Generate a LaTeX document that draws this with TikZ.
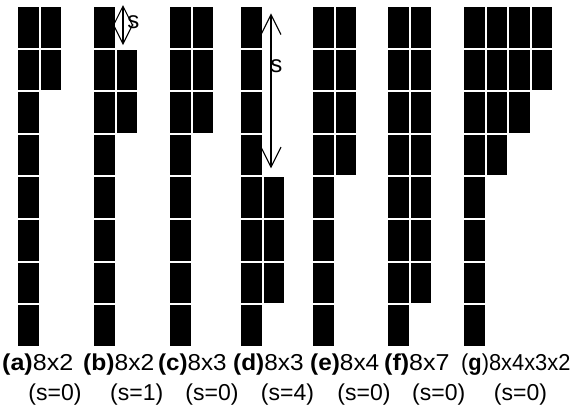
\documentclass[tikz,border=0pt]{standalone}
\usepackage{fontspec}
\usepackage{graphicx}
\setmainfont{Liberation Sans}
\usetikzlibrary{arrows.meta}
% caption text stretched horizontally by #1
\newcommand{\capstretch}[2]{\scalebox{#1}[1]{#2}}
\begin{document}
\begin{tikzpicture}[x=1pt,y=-1pt,
  cell/.style={fill=black},
  gaparrow/.style={line width=1.1pt,{Straight Barb[length=20pt,width=20pt]}-{Straight Barb[length=20pt,width=20pt]}},
  caption/.style={inner sep=0pt,font=\fontsize{23}{27}\selectfont},
  slabel/.style={inner sep=0pt,font=\fontsize{24}{28}\selectfont}]
\useasboundingbox (0,0) rectangle (574,405);
\def\cellw{20.6}\def\cellh{40.6}\def\pitchx{22.6}\def\pitchy{42.6}\def\gridtop{7}
% panels: left edge / list of column:first row:row count
\foreach \L/\spec in {18/{0/0/8,1/0/2},94/{0/0/8,1/1/2},170/{0/0/8,1/0/3},241/{0/0/8,1/4/3},313/{0/0/8,1/0/4},388/{0/0/8,1/0/7},464/{0/0/8,1/0/4,2/0/3,3/0/2}}{
  \foreach \c/\s/\n in \spec {
    \foreach \r in {1,...,\n} {
      \fill[cell] ({\L+\c*\pitchx},{\gridtop+(\s+\r-1)*\pitchy}) rectangle ++(\cellw,\cellh);
    }
  }
}
% shift arrows
\coordinate (bTop) at (123,5);
\coordinate (bBot) at (123,45);
\draw[gaparrow] (bTop) -- (bBot);
\node[slabel] (bS) at (133.3,22) {s};
\coordinate (dTop) at (271,13.3);
\coordinate (dBot) at (271,168.3);
\draw[gaparrow] (dTop) -- (dBot);
\node[slabel] (dS) at (276.3,65.7) {s};
% captions
\node[caption,anchor=base west] (capA) at (2,370.5) {\capstretch{1.09}{\textbf{(a)}8x2}};
\node[caption,anchor=base west] (capB) at (83,370.5) {\capstretch{1.07}{\textbf{(b)}8x2}};
\node[caption,anchor=base west] (capC) at (158,370.5) {\capstretch{1.05}{\textbf{(c)}8x3}};
\node[caption,anchor=base west] (capD) at (233,370.5) {\capstretch{1.06}{\textbf{(d)}8x3}};
\node[caption,anchor=base west] (capE) at (310,370.5) {\capstretch{1.06}{\textbf{(e)}8x4}};
\node[caption,anchor=base west] (capF) at (384,370.5) {\capstretch{1.09}{\textbf{(f)}8x7}};
\node[caption,anchor=base west] (capG) at (461,370.5) {\capstretch{0.95}{(\textbf{g})8x4x3x2}};
\node[caption,anchor=base] (sA) at (55,400) {(s=0)};
\node[caption,anchor=base] (sB) at (136.7,400) {(s=1)};
\node[caption,anchor=base] (sC) at (212,400) {(s=0)};
\node[caption,anchor=base] (sD) at (287.5,400) {(s=4)};
\node[caption,anchor=base] (sE) at (364,400) {(s=0)};
\node[caption,anchor=base] (sF) at (438.7,400) {(s=0)};
\node[caption,anchor=base] (sG) at (520.5,400) {(s=0)};
\end{tikzpicture}
\end{document}
